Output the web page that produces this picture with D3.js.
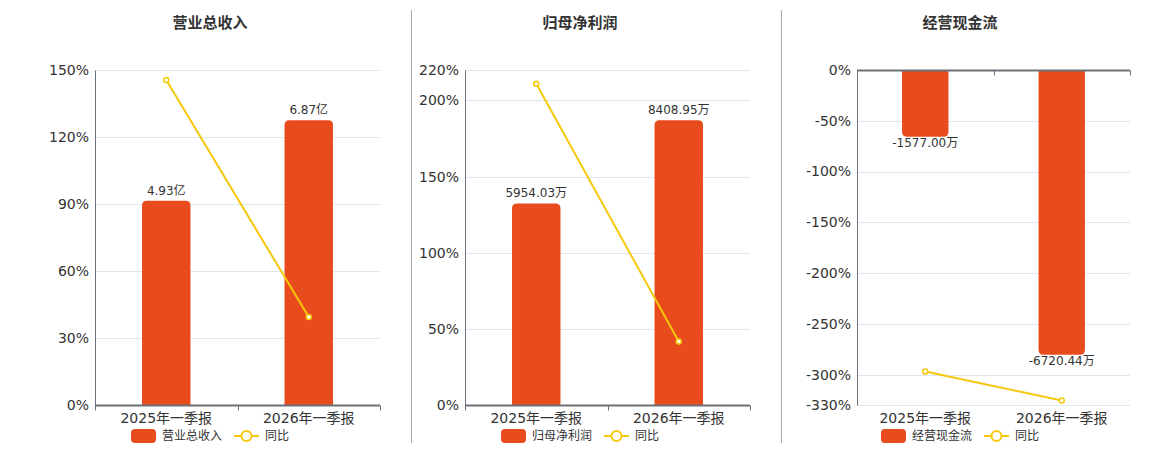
<!DOCTYPE html>
<html>
<head>
<meta charset="utf-8">
<script src="https://cdn.jsdelivr.net/npm/d3@7/dist/d3.min.js"></script>
<style>
  html, body { margin: 0; padding: 0; background: #fff; }
  svg { display: block; font-family: "DejaVu Sans", "Noto Sans CJK SC", sans-serif; }
</style>
</head>
<body>
<div id="chart"></div>
<script>
// categories shared by all three panels
const categories = ["2025年一季报", "2026年一季报"];

// 营业总收入 (亿)
const revenueValues = [4.93, 6.87];
const revenueYoy = [145.5, 39.4];
const revenueTicks = [0, 30, 60, 90, 120, 150];

// 归母净利润 (万)
const profitValues = [5954.03, 8408.95];
const profitYoy = [211, 41.7];
const profitTicks = [0, 50, 100, 150, 200, 220];

// 经营现金流 (万)
const cashValues = [-1577.00, -6720.44];
const cashYoy = [-297, -325.6];
const cashTicks = [0, -50, -100, -150, -200, -250, -300, -330];

const BAR_COLOR = "#E84C1C";
const LINE_COLOR = "#F5C80C";
const AXIS_COLOR = "#6E7079";
const GRID_COLOR = "#E0E6F1";
const TEXT_COLOR = "#333";

const W = 1160, H = 450;
const plotTop = 70, plotBottom = 405;

const svg = d3.select("#chart").append("svg")
    .attr("width", W)
    .attr("height", H);

// divider lines between panels
[411, 781].forEach(function (x) {
  svg.append("line")
      .attr("x1", x + 0.5).attr("x2", x + 0.5)
      .attr("y1", 10).attr("y2", 443)
      .attr("stroke", "#aaa")
      .attr("stroke-width", 1);
});

const panels = [
  { title: "营业总收入", left: 95, right: 380, center: 210, values: revenueValues, unit: "亿",
    yoy: revenueYoy, ticks: revenueTicks },
  { title: "归母净利润", left: 465, right: 750, center: 580, values: profitValues, unit: "万",
    yoy: profitYoy, ticks: profitTicks },
  { title: "经营现金流", left: 857, right: 1130, center: 960, values: cashValues, unit: "万",
    yoy: cashYoy, ticks: cashTicks }
];

// path for a bar with the two outer corners rounded
function barPath(x, y0, w, y1, r) {
  var dir = y1 < y0 ? 1 : -1; // 1 = grows upward
  var h = Math.abs(y1 - y0);
  r = Math.min(r, h, w / 2);
  return "M" + x + "," + y0 +
    "V" + (y1 + dir * r) +
    "Q" + x + "," + y1 + " " + (x + r) + "," + y1 +
    "H" + (x + w - r) +
    "Q" + (x + w) + "," + y1 + " " + (x + w) + "," + (y1 + dir * r) +
    "V" + y0 + "Z";
}

function drawPanel(p) {
  const g = svg.append("g");

  const x = d3.scaleBand()
      .domain(categories)
      .range([p.left, p.right]);

  const y = d3.scaleLinear()
      .domain(d3.extent(p.ticks))
      .range([plotBottom, plotTop]);

  // hidden axis for the bar amounts
  const maxAbs = d3.max(p.values, function (d) { return Math.abs(d); });
  const neg = d3.min(p.values) < 0;
  const yBar = d3.scaleLinear()
      .domain(neg ? [0, -maxAbs / 0.85] : [0, maxAbs / 0.85])
      .range(neg ? [plotTop, plotBottom] : [plotBottom, plotTop]);

  // title
  g.append("text")
      .attr("x", p.center)
      .attr("y", 28)
      .attr("text-anchor", "middle")
      .attr("font-size", 15)
      .attr("font-weight", "bold")
      .attr("fill", TEXT_COLOR)
      .text(p.title);

  // grid lines
  g.append("g")
    .selectAll("line")
    .data(p.ticks.filter(function (t) { return t !== 0; }))
    .enter().append("line")
      .attr("x1", p.left).attr("x2", p.right)
      .attr("y1", function (d) { return Math.round(y(d)) + 0.5; })
      .attr("y2", function (d) { return Math.round(y(d)) + 0.5; })
      .attr("stroke", GRID_COLOR);

  // y axis
  const gy = g.append("g")
      .attr("transform", "translate(" + p.left + ",0)")
      .call(d3.axisLeft(y).tickValues(p.ticks).tickSize(0).tickPadding(6)
        .tickFormat(function (d) { return d + "%"; }));
  gy.select(".domain").attr("stroke", AXIS_COLOR).attr("stroke-width", 1);
  gy.selectAll(".tick text")
      .attr("font-size", 14)
      .attr("fill", TEXT_COLOR)
      .attr("font-family", "DejaVu Sans, sans-serif");

  // bars
  const barW = x.bandwidth() * 0.34;
  g.append("g")
    .selectAll("path")
    .data(p.values)
    .enter().append("path")
      .attr("d", function (d, i) {
        const cx = x(categories[i]) + x.bandwidth() / 2;
        return barPath(cx - barW / 2, yBar(0), barW, yBar(d), 5);
      })
      .attr("fill", BAR_COLOR);

  // bar value labels
  g.append("g")
    .selectAll("text")
    .data(p.values)
    .enter().append("text")
      .attr("x", function (d, i) { return x(categories[i]) + x.bandwidth() / 2; })
      .attr("y", function (d) { return d < 0 ? yBar(d) + 10 : yBar(d) - 6; })
      .attr("text-anchor", "middle")
      .attr("font-size", 12)
      .attr("fill", TEXT_COLOR)
      .text(function (d) { return d3.format(".2f")(d).replace("−", "-") + p.unit; });

  // x axis line at zero
  const zy = Math.round(y(0)) + 0.5;
  g.append("line")
      .attr("x1", p.left).attr("x2", p.right)
      .attr("y1", zy).attr("y2", zy)
      .attr("stroke", AXIS_COLOR)
      .attr("stroke-width", 2);
  const bounds = categories.map(function (c) { return x(c); }).concat([p.right]);
  g.append("g")
    .selectAll("line")
    .data(bounds)
    .enter().append("line")
      .attr("x1", function (d) { return Math.round(d) + 0.5; })
      .attr("x2", function (d) { return Math.round(d) + 0.5; })
      .attr("y1", zy).attr("y2", zy + 5)
      .attr("stroke", AXIS_COLOR);

  // category labels at the bottom
  const gx = g.append("g")
      .attr("transform", "translate(0," + plotBottom + ")")
      .call(d3.axisBottom(x).tickSize(0).tickPadding(8));
  gx.select(".domain").remove();
  gx.selectAll(".tick text")
      .attr("font-size", 14)
      .attr("fill", TEXT_COLOR)
      .attr("font-family", "DejaVu Sans, Noto Sans CJK SC, sans-serif");

  // yoy line
  const line = d3.line()
      .x(function (d, i) { return x(categories[i]) + x.bandwidth() / 2; })
      .y(function (d) { return y(d); });
  g.append("path")
      .datum(p.yoy)
      .attr("d", line)
      .attr("fill", "none")
      .attr("stroke", LINE_COLOR)
      .attr("stroke-width", 2);
  g.append("g")
    .selectAll("circle")
    .data(p.yoy)
    .enter().append("circle")
      .attr("cx", function (d, i) { return x(categories[i]) + x.bandwidth() / 2; })
      .attr("cy", function (d) { return y(d); })
      .attr("r", 2.5)
      .attr("fill", "#fff")
      .attr("stroke", LINE_COLOR)
      .attr("stroke-width", 1.5);

  // legend
  const legendW = 158;
  const lg = g.append("g")
      .attr("transform", "translate(" + (p.center - legendW / 2) + ",436)");
  lg.append("rect")
      .attr("x", 0).attr("y", -7)
      .attr("width", 25).attr("height", 14)
      .attr("rx", 4)
      .attr("fill", BAR_COLOR);
  lg.append("text")
      .attr("x", 31).attr("y", 0)
      .attr("dy", "0.36em")
      .attr("font-size", 12)
      .attr("fill", TEXT_COLOR)
      .text(p.title);
  lg.append("line")
      .attr("x1", 103).attr("x2", 128)
      .attr("y1", 0).attr("y2", 0)
      .attr("stroke", LINE_COLOR)
      .attr("stroke-width", 2);
  lg.append("circle")
      .attr("cx", 115.5).attr("cy", 0)
      .attr("r", 5)
      .attr("fill", "#fff")
      .attr("stroke", LINE_COLOR)
      .attr("stroke-width", 2);
  lg.append("text")
      .attr("x", 134).attr("y", 0)
      .attr("dy", "0.36em")
      .attr("font-size", 12)
      .attr("fill", TEXT_COLOR)
      .text("同比");
}

panels.forEach(drawPanel);
</script>
</body>
</html>
